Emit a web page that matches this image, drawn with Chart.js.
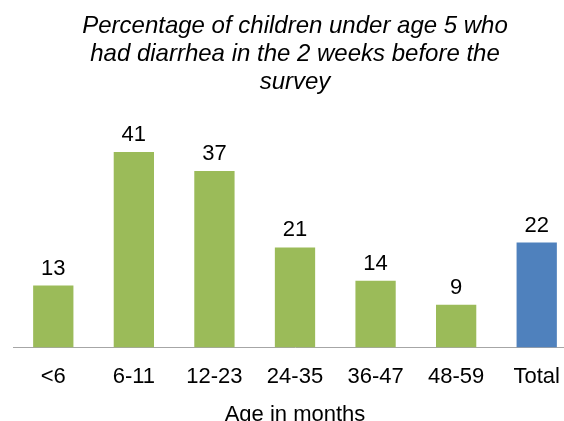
<!DOCTYPE html>
<html>
<head>
<meta charset="utf-8">
<script src="https://cdn.jsdelivr.net/npm/chart.js@4/dist/chart.umd.min.js"></script>
<style>
  html, body { margin: 0; padding: 0; overflow: hidden; background: #fff; }
  #wrap { position: relative; width: 600px; height: 430px; }
</style>
</head>
<body>
<div id="wrap"><canvas id="c"></canvas></div>
<script>
const categories = ['<6', '6-11', '12-23', '24-35', '36-47', '48-59', 'Total'];
const values = [13, 41, 37, 21, 14, 9, 22];
const barColors = ['#9BBB59', '#9BBB59', '#9BBB59', '#9BBB59', '#9BBB59', '#9BBB59', '#4F81BD'];
const titleLines = ['Percentage of children under age 5 who', 'had diarrhea in the 2 weeks before the', 'survey'];
const xAxisTitle = 'Age in months';

const FONT = "'Liberation Sans', Arial, sans-serif";

const valueLabels = {
  id: 'valueLabels',
  afterDatasetsDraw(chart) {
    const ctx = chart.ctx;
    const meta = chart.getDatasetMeta(0);
    ctx.save();
    ctx.font = '22px ' + FONT;
    ctx.fillStyle = '#000';
    ctx.textAlign = 'center';
    ctx.textBaseline = 'alphabetic';
    meta.data.forEach((bar, i) => {
      ctx.fillText(String(values[i]), bar.x, bar.y - 11);
    });
    // x axis title
    const xs = chart.scales.x;
    ctx.fillText(xAxisTitle, (xs.left + xs.right) / 2, chart.chartArea.bottom + 73);
    ctx.restore();
  }
};

new Chart(document.getElementById('c'), {
  type: 'bar',
  data: {
    labels: categories,
    datasets: [{
      data: values,
      backgroundColor: barColors,
      borderWidth: 0,
      barPercentage: 0.5,
      categoryPercentage: 1.0
    }]
  },
  options: {
    responsive: true,
    maintainAspectRatio: false,
    animation: false,
    layout: { padding: { left: 13, right: 23, top: 0, bottom: 24 } },
    plugins: {
      legend: { display: false },
      tooltip: { enabled: false },
      title: {
        display: true,
        text: titleLines,
        color: '#000',
        font: { family: FONT, size: 24, style: 'italic', weight: 'normal', lineHeight: 28 / 24 },
        padding: { top: 12, bottom: 13 }
      }
    },
    scales: {
      y: {
        display: false,
        min: 0,
        max: 50
      },
      x: {
        grid: { display: false, drawTicks: false },
        border: { display: true, color: '#A6A6A6', width: 1 },
        ticks: {
          color: '#000',
          font: { family: FONT, size: 22 },
          padding: 16,
          maxRotation: 0
        }
      }
    }
  },
  plugins: [valueLabels]
});
</script>
</body>
</html>
